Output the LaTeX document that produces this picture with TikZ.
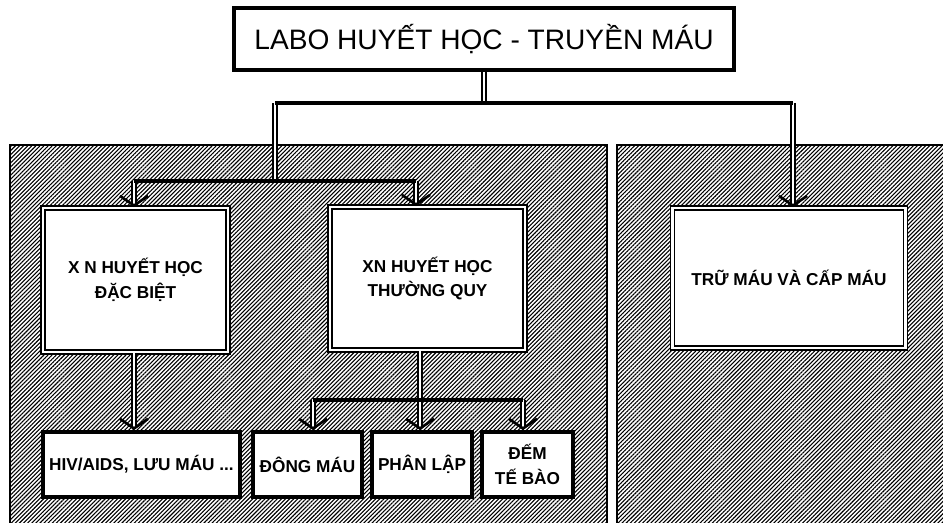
\documentclass[tikz,border=0pt]{standalone}
\usepackage{fontspec}
\setmainfont{Liberation Sans}
\usetikzlibrary{patterns.meta,arrows.meta}
\tikzset{
  panel/.style={draw, line width=0.9pt, pattern={Lines[angle=45,distance=1.65pt,line width=0.62pt]}},
  bigbox/.style={draw, double, line width=1pt, double distance=1.2pt, fill=white, align=center, inner sep=0pt, font=\bfseries\fontsize{9.8}{14}\selectfont},
  smallbox/.style={draw, line width=2.2pt, fill=white, align=center, inner sep=0pt, font=\bfseries\fontsize{9.8}{14}\selectfont},
  titlebox/.style={draw, line width=2.6pt, fill=white, inner sep=0pt, font=\fontsize{16}{20}\selectfont},
  conn/.style={double, line width=0.9pt, double distance=1.1pt},
  bar/.style={line width=2.4pt},
  arr/.style={conn, -{Straight Barb[length=5.5pt,width=16pt,line width=1.5pt]}}
}
\begin{document}
\begin{tikzpicture}[x=0.02cm,y=-0.02cm]
\useasboundingbox (0,0) rectangle (943,522);
\fill[white] (0,0) rectangle (943,522);
% panels
\path[panel] (10,145) rectangle (607,524);
\path[panel] (617,145) rectangle (945,524);
% nodes
\node[titlebox, minimum width=10cm, minimum height=1.24cm] (title) at (484,39) {LABO HUYẾT HỌC - TRUYỀN MÁU};
\node[bigbox, minimum width=3.7cm, minimum height=2.88cm] (b1) at (135.5,280) {X N HUYẾT HỌC\\ĐẶC BIỆT};
\node[bigbox, minimum width=3.9cm, minimum height=2.86cm] (b2) at (427.5,278.5) {XN HUYẾT HỌC\\THƯỜNG QUY};
\node[bigbox, minimum width=4.66cm, minimum height=2.8cm] (b3) at (789,278) {TRỮ MÁU VÀ CẤP MÁU};
\node[smallbox, minimum width=3.94cm, minimum height=1.3cm] (hiv) at (141.5,464.5) {HIV/AIDS, LƯU MÁU ...};
\node[smallbox, minimum width=2.18cm, minimum height=1.3cm] (dong) at (307.5,464.5) {ĐÔNG MÁU};
\node[smallbox, minimum width=2cm, minimum height=1.3cm] (phan) at (422,464.5) {PHÂN LẬP};
\node[smallbox, minimum width=1.82cm, minimum height=1.3cm] (dem) at (527.5,464.5) {ĐẾM\\TẾ BÀO};
% junctions
\coordinate (j0) at (title.south |- 0,103);
\coordinate (jl) at (275,103);
\coordinate (jr) at (793,103);
\coordinate (jl2) at (275,181);
\coordinate (a1) at (134,181);
\coordinate (a2) at (416,181);
\coordinate (j2) at (420,400);
\coordinate (c1) at (313,400);
\coordinate (c3) at (523,400);
% connectors
\draw[conn] (title.south) -- (j0);
\draw[conn] (jl) -- (jl2);
\draw[arr] (a1) -- (a1 |- b1.north);
\draw[arr] (a2) -- (a2 |- b2.north);
\draw[arr] (jr) -- (jr |- b3.north);
\draw[arr] (b1.south -| a1) -- (a1 |- hiv.north);
\draw[conn] (b2.south -| j2) -- (j2);
\draw[arr] (c1) -- (c1 |- dong.north);
\draw[arr] (j2) -- (j2 |- phan.north);
\draw[arr] (c3) -- (c3 |- dem.north);
\draw[bar] (jl) -- (jr);
\draw[bar] (a1) -- (a2);
\draw[bar] (c1) -- (c3);
\end{tikzpicture}
\end{document}
